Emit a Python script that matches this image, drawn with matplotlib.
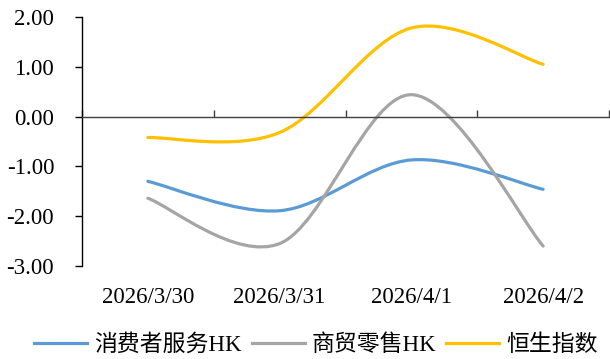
import numpy as np
import matplotlib
matplotlib.use("Agg")
import matplotlib.pyplot as plt
from matplotlib.path import Path
from matplotlib.patches import PathPatch
from matplotlib.lines import Line2D

plt.rcParams['font.family'] = ['Liberation Serif', 'Noto Sans CJK SC']

dates = ["2026/3/30", "2026/3/31", "2026/4/1", "2026/4/2"]
consumer = [-1.30, -1.89, -0.87, -1.46]
retail = [-1.64, -2.55, 0.44, -2.60]
hsi = [-0.42, -0.32, 1.78, 1.05]

names = ["消费者服务HK", "商贸零售HK", "恒生指数"]
colors = ["#5B9BD5", "#A5A5A5", "#FFC000"]


def smooth_path(x, y):
    # excel-like smoothed line: cubic bezier through the points
    p = np.column_stack([x, y]).astype(float)
    ext = np.vstack([p[0], p, p[-1]])
    verts = [p[0]]
    codes = [Path.MOVETO]
    for i in range(len(p) - 1):
        c1 = p[i] + (ext[i + 2] - ext[i]) / 6.0
        c2 = p[i + 1] - (ext[i + 3] - ext[i + 1]) / 6.0
        verts += [c1, c2, p[i + 1]]
        codes += [Path.CURVE4] * 3
    return Path(verts, codes)


fig = plt.figure(figsize=(6.10, 3.59), dpi=100)
ax = fig.add_axes([82 / 610, 1 - 266 / 359, 527 / 610, 249 / 359])

x = np.arange(len(dates))
for vals, c in zip([consumer, retail, hsi], colors):
    ax.add_patch(PathPatch(smooth_path(x, vals), facecolor='none', edgecolor=c,
                           lw=2.3, capstyle='round', joinstyle='round'))

ax.set_xlim(-0.5, len(dates) - 0.5)
ax.set_ylim(-3, 2)
ax.set_yticks(np.arange(-3, 2.5, 1))
ax.set_yticklabels(["%.2f" % v for v in np.arange(-3, 2.5, 1)], fontsize=16.5)
ax.tick_params(axis='y', direction='out', length=5, width=1, pad=15)

for s in ['top', 'right']:
    ax.spines[s].set_visible(False)
ax.spines['left'].set_linewidth(1)
ax.spines['bottom'].set_position(('data', 0))
ax.spines['bottom'].set_linewidth(1)
ax.spines['bottom'].set_color('#404040')
ax.set_xticks(np.arange(-0.5, len(dates), 1))
ax.set_xticklabels([])
ax.tick_params(axis='x', direction='in', length=5, width=1, color='#404040')

sec = ax.secondary_xaxis(0.0)
sec.set_xticks(x)
sec.set_xticklabels(dates, fontsize=16.5)
sec.tick_params(length=0, pad=15)
sec.spines['bottom'].set_visible(False)

handles = [Line2D([], [], color=c, lw=2.3) for c in colors]
fig.legend(handles, names, loc='center', bbox_to_anchor=(0.518, 1 - 345 / 359),
           ncol=3, frameon=False, fontsize=16.5, handlelength=2.3,
           handletextpad=0.3, columnspacing=0.45, borderaxespad=0)

fig.savefig("out.png", dpi=100)
